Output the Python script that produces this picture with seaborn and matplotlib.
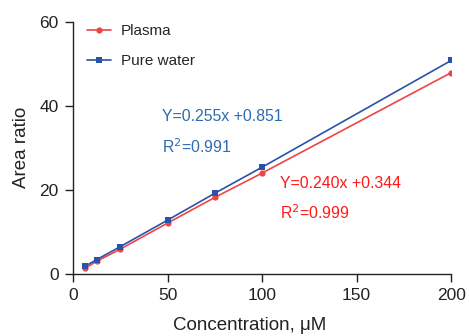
import matplotlib
matplotlib.use("Agg")
import matplotlib.pyplot as plt
import seaborn as sns
import pandas as pd

conc = [6.25, 12.5, 25, 50, 75, 100, 200]
plasma = [1.3, 3.0, 5.9, 12.1, 18.2, 24.0, 47.9]
water = [1.8, 3.4, 6.5, 12.8, 19.2, 25.4, 50.8]
series = ["Plasma", "Pure water"]
xticks = [0, 50, 100, 150, 200]
yticks = [0, 20, 40, 60]

sns.set_style("ticks")
plt.rcParams['font.family'] = ['Liberation Sans', 'DejaVu Sans']

df = pd.DataFrame({
    "conc": conc * 2,
    "ratio": plasma + water,
    "series": [series[0]] * len(conc) + [series[1]] * len(conc),
})

fig = plt.figure(figsize=(4.69, 3.36), dpi=100)
ax = fig.add_axes([0.156, 0.185, 0.806, 0.75])

palette = {"Plasma": "#ee4444", "Pure water": "#2a52a8"}
sns.lineplot(data=df, x="conc", y="ratio", hue="series", style="series",
             markers={"Plasma": "o", "Pure water": "s"}, dashes=False,
             palette=palette, markersize=4.5, markeredgewidth=0, linewidth=1.2,
             ax=ax)

ax.set_xlim(0, 200)
ax.set_ylim(0, 60)
ax.set_xticks(xticks)
ax.set_yticks(yticks)
ax.tick_params(labelsize=12.5, length=5.5, width=1, pad=5, colors="#222222")
for s in ["top", "right"]:
    ax.spines[s].set_visible(False)
for s in ["left", "bottom"]:
    ax.spines[s].set_linewidth(1)
    ax.spines[s].set_color("#222222")
ax.set_xlabel("Concentration, μM", fontsize=13.5, color="#222222")
ax.set_ylabel("Area ratio", fontsize=13.5, color="#222222")
ax.xaxis.set_label_coords(0.466, -0.17)
ax.yaxis.set_label_coords(-0.115, 0.5)

leg = ax.legend(loc="upper left", frameon=False, fontsize=11, handlelength=1.6,
                handletextpad=0.6, bbox_to_anchor=(0.0, 1.045), labelspacing=1.05)

fs = 11.4
ax.text(47, 37.4, "Y=0.255x +0.851", color="#2c6cb0", fontsize=fs, va="center")
ax.text(47, 30.2, "R$^2$=0.991", color="#2c6cb0", fontsize=fs, va="center")
ax.text(109.5, 21.4, "Y=0.240x +0.344", color="#ff1a1a", fontsize=fs, va="center")
ax.text(109.5, 14.5, "R$^2$=0.999", color="#ff1a1a", fontsize=fs, va="center")

fig.savefig("out.png", dpi=100)
